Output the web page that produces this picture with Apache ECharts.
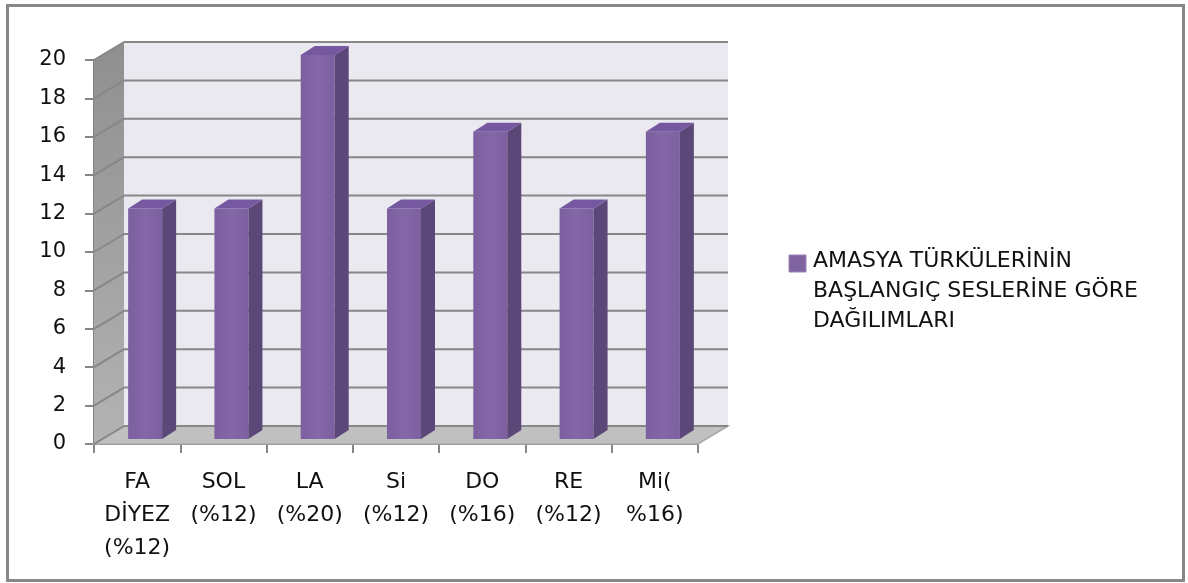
<!DOCTYPE html>
<html>
<head>
<meta charset="utf-8">
<script src="https://cdn.jsdelivr.net/npm/echarts@6/dist/echarts.min.js"></script>
<style>
  html, body { margin: 0; padding: 0; background: #ffffff; }
  #chart { width: 1188px; height: 583px; }
</style>
</head>
<body>
<div id="chart"></div>
<script>
// Starting-note categories and counts
const categories = ['FA\nDİYEZ\n(%12)', 'SOL\n(%12)', 'LA\n(%20)', 'Si\n(%12)', 'DO\n(%16)', 'RE\n(%12)', 'Mi(\n%16)'];
const values = [12, 12, 20, 12, 16, 12, 16];
const yTicks = [0, 2, 4, 6, 8, 10, 12, 14, 16, 18, 20];
const seriesName = 'AMASYA TÜRKÜLERİNİN\nBAŞLANGIÇ SESLERİNE GÖRE\nDAĞILIMLARI';

// oblique depth of the 3D box (pixels)
const DX = 30, DY = -18;
// bar placement inside the depth and bar size
const BAR_SX = 8, BAR_SY = -5, BAR_W = 34, BAR_DX = 14, BAR_DY = -9;

const FONT = 'DejaVu Sans';
const TEXT = '#111111';
const chart = echarts.init(document.getElementById('chart'), null, { renderer: 'canvas' });

function poly(points, fill, stroke, lw) {
  return { type: 'polygon', shape: { points }, style: { fill, stroke: stroke || null, lineWidth: lw || 0 } };
}

const option = {
  backgroundColor: '#ffffff',
  animation: false,
  textStyle: { fontFamily: FONT },
  grid: { left: 94, top: 60, width: 604, height: 384, containLabel: false },
  xAxis: {
    type: 'category',
    data: categories,
    axisLine: { lineStyle: { color: '#858585', width: 2 } },
    axisTick: { show: true, length: 9, lineStyle: { color: '#858585', width: 2 } },
    axisLabel: { color: TEXT, fontSize: 22, lineHeight: 33, margin: 22, fontFamily: FONT, interval: 0 }
  },
  yAxis: {
    type: 'value', min: 0, max: 20, interval: 2,
    axisLine: { show: true, lineStyle: { color: '#858585', width: 2 } },
    axisTick: { show: true, length: 9, lineStyle: { color: '#858585', width: 2 } },
    axisLabel: { color: TEXT, fontSize: 21, margin: 28, fontFamily: FONT },
    splitLine: { show: false }
  },
  series: [
    {
      // walls and floor of the 3D box
      type: 'custom', silent: true, z: 1,
      data: [[0, 0]],
      renderItem: function (params, api) {
        const cs = params.coordSys;
        const x0 = cs.x, y0 = cs.y, w = cs.width, h = cs.height, yb = y0 + h;
        return {
          type: 'group',
          children: [
            poly([[x0, yb], [x0, y0], [x0 + DX, y0 + DY], [x0 + DX, yb + DY]], {
              type: 'linear', x: 0, y: 0, x2: 0, y2: 1,
              colorStops: [{ offset: 0, color: '#8f8f8f' }, { offset: 1, color: '#b3b3b3' }]
            }),
            { type: 'rect', shape: { x: x0 + DX, y: y0 + DY, width: w, height: h }, style: { fill: '#ebe9f0' } },
            poly([[x0, yb], [x0 + w, yb], [x0 + w + DX, yb + DY], [x0 + DX, yb + DY]], '#c0c0c0', '#a8a8a8', 1.5)
          ]
        };
      }
    },
    {
      // gridlines on back wall and side wall
      type: 'custom', silent: true, z: 2,
      data: yTicks.map(v => [0, v]),
      renderItem: function (params, api) {
        const cs = params.coordSys;
        const y = api.coord([0, api.value(1)])[1];
        const x0 = cs.x, w = cs.width;
        const ls = { stroke: '#878787', lineWidth: 2 };
        return {
          type: 'group',
          children: [
            { type: 'line', shape: { x1: x0 + DX, y1: y + DY, x2: x0 + w + DX, y2: y + DY }, style: ls },
            { type: 'line', shape: { x1: x0, y1: y, x2: x0 + DX, y2: y + DY }, style: ls }
          ]
        };
      }
    },
    {
      // 3D columns
      name: seriesName,
      type: 'custom', z: 3,
      data: values.map((v, i) => [i, v]),
      renderItem: function (params, api) {
        const top = api.coord([api.value(0), api.value(1)]);
        const base = api.coord([api.value(0), 0]);
        const cx = top[0] + BAR_SX;
        const l = cx - BAR_W / 2, r = cx + BAR_W / 2;
        const t = top[1] + BAR_SY, b = base[1] + BAR_SY;
        return {
          type: 'group',
          children: [
            { type: 'rect', shape: { x: l, y: t, width: BAR_W, height: b - t },
              style: { fill: { type: 'linear', x: 0, y: 0, x2: 1, y2: 0,
                colorStops: [{ offset: 0, color: '#7c5f9e' }, { offset: 0.5, color: '#8467a6' }, { offset: 1, color: '#7d60a0' }] } } },
            poly([[r, t], [r + BAR_DX, t + BAR_DY], [r + BAR_DX, b + BAR_DY], [r, b]], '#5b4878'),
            poly([[l, t], [r, t], [r + BAR_DX, t + BAR_DY], [l + BAR_DX, t + BAR_DY]], '#7558a0')
          ]
        };
      }
    }
  ],
  graphic: [
    { type: 'rect', shape: { x: 7.5, y: 5.5, width: 1176, height: 575 },
      style: { fill: null, stroke: '#878787', lineWidth: 3 }, z: 0 },
    { type: 'rect', shape: { x: 789, y: 255, width: 17, height: 17 },
      style: { fill: '#8064a2', stroke: '#9a84b8', lineWidth: 1 } },
    { type: 'text', x: 813, y: 246,
      style: { text: seriesName, fill: TEXT, fontSize: 22, lineHeight: 30, fontFamily: FONT } }
  ]
};
chart.setOption(option);
</script>
</body>
</html>
